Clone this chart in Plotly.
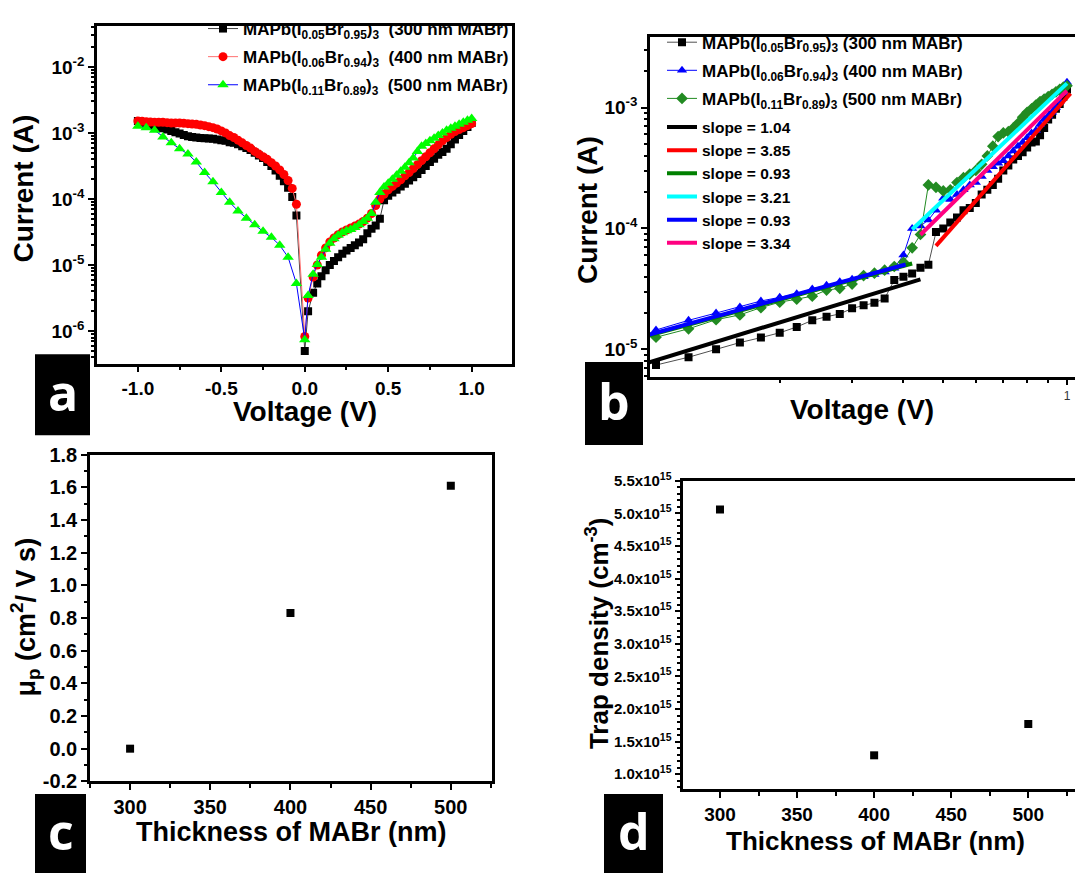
import numpy as np
import plotly.graph_objects as go

W, H = 1075, 884


def fx(px):
    return px / W


def fy(py):
    return 1 - py / H


FONT = "Liberation Sans"

# ---------------- panel a: I-V sweep (log10 of current in A) ----------------
# sweep used for the 300 nm and 400 nm films
voltage_a = [-1.000, -0.975, -0.950, -0.925, -0.900, -0.875, -0.850, -0.825, -0.800, -0.775,
             -0.750, -0.725, -0.700, -0.675, -0.650, -0.625, -0.600, -0.575, -0.550, -0.525,
             -0.500, -0.475, -0.450, -0.425, -0.400, -0.375, -0.350, -0.325, -0.300, -0.275,
             -0.250, -0.225, -0.200, -0.175, -0.150, -0.125, -0.100, -0.075, -0.050,
             0.000, 0.020,
             0.050, 0.075, 0.100, 0.125, 0.150, 0.175, 0.200, 0.225, 0.250, 0.275,
             0.300, 0.325, 0.350, 0.375, 0.400, 0.425, 0.450, 0.475, 0.500, 0.525,
             0.550, 0.575, 0.600, 0.625, 0.650, 0.675, 0.700, 0.725, 0.750, 0.775,
             0.800, 0.825, 0.850, 0.875, 0.900, 0.925, 0.950, 0.975, 1.000]

log_i_300 = [-2.82, -2.84, -2.86, -2.88, -2.89, -2.91, -2.93, -2.95, -2.97, -2.99,
             -3.01, -3.03, -3.05, -3.06, -3.07, -3.075, -3.08, -3.085, -3.09, -3.10,
             -3.11, -3.12, -3.14, -3.15, -3.17, -3.20, -3.23, -3.26, -3.30, -3.34,
             -3.38, -3.44, -3.50, -3.57, -3.65, -3.73, -3.83, -3.97, -4.25,
             -6.30, -5.70,
             -5.42, -5.28, -5.17, -5.08, -5.00, -4.94, -4.88, -4.83, -4.78, -4.74,
             -4.70, -4.66, -4.61, -4.52, -4.45, -4.40, -4.30, -4.02, -3.95, -3.90,
             -3.86, -3.81, -3.77, -3.72, -3.67, -3.62, -3.56, -3.50, -3.44, -3.39,
             -3.33, -3.29, -3.24, -3.17, -3.10, -3.03, -2.97, -2.91, -2.85]

log_i_400 = [-2.82, -2.825, -2.83, -2.835, -2.84, -2.84, -2.84, -2.845, -2.85, -2.85,
             -2.85, -2.855, -2.86, -2.865, -2.87, -2.88, -2.89, -2.905, -2.92, -2.94,
             -2.97, -3.00, -3.04, -3.07, -3.11, -3.15, -3.19, -3.23, -3.28, -3.32,
             -3.36, -3.40, -3.45, -3.50, -3.56, -3.63, -3.72, -3.84, -4.08,
             -6.08, -5.50,
             -5.18, -5.00, -4.85, -4.74, -4.65, -4.59, -4.54, -4.50, -4.47, -4.44,
             -4.41, -4.38, -4.34, -4.29, -4.22, -4.10, -4.00, -3.93, -3.86, -3.81,
             -3.76, -3.71, -3.65, -3.60, -3.54, -3.48, -3.42, -3.36, -3.30, -3.24,
             -3.18, -3.12, -3.07, -3.02, -2.98, -2.95, -2.92, -2.89, -2.86]

# sweep used for the 500 nm film
voltage_a_500 = [-1.00, -0.95, -0.90, -0.85, -0.80, -0.75, -0.70, -0.65, -0.60, -0.55,
                 -0.50, -0.45, -0.40, -0.35, -0.30, -0.25, -0.20, -0.15, -0.10, -0.05,
                 0.000, 0.020,
                 0.050, 0.075, 0.100, 0.125, 0.150, 0.175, 0.200, 0.225, 0.250, 0.275,
                 0.300, 0.325, 0.350, 0.375, 0.400, 0.425, 0.450, 0.475, 0.500, 0.525,
                 0.550, 0.575, 0.600, 0.625, 0.650, 0.675, 0.700, 0.725, 0.750, 0.775,
                 0.800, 0.825, 0.850, 0.875, 0.900, 0.925, 0.950, 0.975, 1.000]

log_i_500 = [-2.90, -2.92, -2.96, -3.06, -3.15, -3.24, -3.32, -3.44, -3.60, -3.74,
             -3.90, -4.05, -4.18, -4.29, -4.39, -4.49, -4.58, -4.70, -4.88, -5.28,
             -6.13, -5.46,
             -5.14, -4.99, -4.88, -4.76, -4.67, -4.60, -4.55, -4.51, -4.48, -4.46,
             -4.43, -4.39, -4.34, -4.29, -4.22, -4.05, -3.90, -3.82, -3.76, -3.70,
             -3.64, -3.58, -3.52, -3.45, -3.38, -3.28, -3.20, -3.16, -3.12, -3.08,
             -3.04, -3.00, -2.96, -2.93, -2.90, -2.87, -2.84, -2.81, -2.78]

names_a = ["MAPb(I<sub>0.05</sub>Br<sub>0.95</sub>)<sub>3</sub>\u00a0\u00a0(300 nm MABr)",
           "MAPb(I<sub>0.06</sub>Br<sub>0.94</sub>)<sub>3</sub>\u00a0\u00a0(400 nm MABr)",
           "MAPb(I<sub>0.11</sub>Br<sub>0.89</sub>)<sub>3</sub>\u00a0\u00a0(500 nm MABr)"]

# ---------------- panel b: log-log forward bias ----------------
voltage_b = [0.10, 0.12, 0.14, 0.16, 0.18, 0.20, 0.22, 0.24, 0.26, 0.28,
             0.30, 0.32, 0.34, 0.36, 0.38, 0.40, 0.42, 0.44, 0.46, 0.48,
             0.50, 0.52, 0.54, 0.56, 0.58, 0.60, 0.62, 0.64, 0.66, 0.68,
             0.70, 0.72, 0.74, 0.76, 0.78, 0.80, 0.82, 0.84, 0.86, 0.88,
             0.90, 0.92, 0.94, 0.96, 0.98, 1.00]

log_ib_300 = [-5.13, -5.065, -5.00, -4.944, -4.903, -4.863, -4.815, -4.76, -4.73, -4.707,
              -4.661, -4.635, -4.615, -4.58, -4.427, -4.40, -4.373, -4.325, -4.30, -4.03,
              -4.00, -3.95, -3.91, -3.85, -3.83, -3.79, -3.72, -3.68, -3.64, -3.59,
              -3.52, -3.48, -3.43, -3.40, -3.37, -3.33, -3.29, -3.28, -3.23, -3.17,
              -3.10, -3.06, -3.01, -2.97, -2.91, -2.85]

log_ib_400 = [-4.84, -4.76, -4.70, -4.65, -4.60, -4.57, -4.54, -4.50, -4.47, -4.44,
              -4.42, -4.40, -4.38, -4.36, -4.33, -4.22, -4.00, -3.98, -3.93, -3.85,
              -3.75, -3.76, -3.72, -3.68, -3.64, -3.62, -3.57, -3.52, -3.49, -3.46,
              -3.44, -3.40, -3.36, -3.32, -3.29, -3.25, -3.21, -3.19, -3.14, -3.10,
              -3.07, -3.04, -3.00, -2.95, -2.88, -2.79]

log_ib_500 = [-4.90, -4.83, -4.755, -4.715, -4.655, -4.61, -4.585, -4.56, -4.51, -4.495,
              -4.46, -4.39, -4.37, -4.345, -4.315, -4.28, -4.16, -4.05, -3.64, -3.66,
              -3.69, -3.68, -3.62, -3.58, -3.55, -3.52, -3.47, -3.40, -3.32, -3.24,
              -3.21, -3.20, -3.17, -3.13, -3.08, -3.04, -3.01, -2.98, -2.95, -2.93,
              -2.91, -2.89, -2.87, -2.85, -2.83, -2.82]

names_b = ["MAPb(I<sub>0.05</sub>Br<sub>0.95</sub>)<sub>3</sub> (300 nm MABr)",
           "MAPb(I<sub>0.06</sub>Br<sub>0.94</sub>)<sub>3</sub> (400 nm MABr)",
           "MAPb(I<sub>0.11</sub>Br<sub>0.89</sub>)<sub>3</sub> (500 nm MABr)"]

# power-law fits: log10(I) = log_i_at_1v + slope * log10(V)
fit_slopes = [1.04, 3.85, 0.93, 3.21, 0.93, 3.34]
fit_log_i_at_1v = [-4.05, -2.917, -3.94, -2.80, -3.933, -2.861]
fit_v_start = [0.09, 0.48, 0.09, 0.42, 0.09, 0.44]
fit_v_end = [0.44, 1.02, 0.42, 1.00, 0.405, 1.00]
fit_colors = ["#000000", "#ff0000", "#008000", "#00ffff", "#0000ff", "#ff0080"]

# ---------------- panels c, d ----------------
thickness_nm = [300, 400, 500]
mobility = [0.0, 0.83, 1.61]
trap_density = [5.06e15, 1.29e15, 1.77e15]

fig = go.Figure()

# panel a traces
styles_a = [
    dict(symbol="square", size=8, color="#000000", line="#404040"),
    dict(symbol="circle", size=9, color="#ff0000", line="#ff7070"),
    dict(symbol="triangle-up", size=10, color="#00ff00", line="#0000ff"),
]
series_a = [(voltage_a, log_i_300), (voltage_a, log_i_400), (voltage_a_500, log_i_500)]
for k, (name, (vv, logs), st) in enumerate(zip(names_a, series_a, styles_a)):
    fig.add_trace(go.Scatter(
        x=vv, y=np.power(10.0, logs), mode="lines+markers", name=name,
        xaxis="x", yaxis="y", legend="legend", legendgroup=f"a{k}",
        line=dict(color=st["line"], width=1),
        marker=dict(symbol=st["symbol"], size=st["size"], color=st["color"]),
    ))

# panel b traces
styles_b = [
    dict(symbol="square", size=8, color="#000000", line="#505050"),
    dict(symbol="triangle-up", size=9, color="#0000ff", line="#0000ff"),
    dict(symbol="diamond", size=9, color="#228b22", line="#228b22"),
]
for k, (name, logs, st) in enumerate(zip(names_b, [log_ib_300, log_ib_400, log_ib_500], styles_b)):
    fig.add_trace(go.Scatter(
        x=voltage_b, y=np.power(10.0, logs), mode="lines+markers", name=name,
        xaxis="x2", yaxis="y2", legend="legend2", legendgroup=f"b{k}",
        line=dict(color=st["line"], width=1),
        marker=dict(symbol=st["symbol"], size=st["size"], color=st["color"]),
    ))

for s, a, v0, v1, c in zip(fit_slopes, fit_log_i_at_1v, fit_v_start, fit_v_end, fit_colors):
    v = np.array([v0, v1])
    fig.add_trace(go.Scatter(
        x=v, y=np.power(10.0, a + s * np.log10(v)), mode="lines",
        name=f"slope = {s:.2f}", xaxis="x2", yaxis="y2", legend="legend3",
        line=dict(color=c, width=4),
    ))

# panel c, d traces
fig.add_trace(go.Scatter(x=thickness_nm, y=mobility, mode="markers", showlegend=False,
                         xaxis="x3", yaxis="y3",
                         marker=dict(symbol="square", size=8, color="black")))
fig.add_trace(go.Scatter(x=thickness_nm, y=trap_density, mode="markers", showlegend=False,
                         xaxis="x4", yaxis="y4",
                         marker=dict(symbol="square", size=8, color="black")))


def tfont(size):
    return dict(family=FONT, size=size, color="black", weight="bold")


base = dict(showline=True, linewidth=2.5, linecolor="black", mirror=True,
            ticks="outside", ticklen=6, tickwidth=2, tickcolor="black",
            showgrid=False, zeroline=False)

minor_style = dict(ticks="outside", ticklen=3.5, tickwidth=1.5, tickcolor="black")


def log_minor(lo, hi):
    vals = []
    for e in range(-8, 2):
        for m in range(2, 10):
            v = m * 10.0 ** e
            if lo < np.log10(v) < hi:
                vals.append(v)
    return vals


decades_a = [1e-6, 1e-5, 1e-4, 1e-3, 1e-2]
decades_b = [1e-5, 1e-4, 1e-3]
range_a = [-6.493, -1.376]
range_b = [-5.226, -2.417]

fig.update_layout(
    width=W, height=H, margin=dict(l=0, r=0, t=0, b=0),
    paper_bgcolor="white", plot_bgcolor="white",
    font=dict(family=FONT, color="black"),
    xaxis=dict(**base, domain=[fx(97), fx(511.7)], anchor="y", range=[-1.245, 1.24],
               tickvals=[-1.0, -0.5, 0.0, 0.5, 1.0],
               ticktext=["-1.0", "-0.5", "0.0", "0.5", "1.0"], tickfont=tfont(19),
               minor=dict(**minor_style, tickvals=[-1.25, -0.75, -0.25, 0.25, 0.75])),
    yaxis=dict(**base, domain=[fy(361.7), fy(15)], anchor="x", type="log", range=range_a,
               tickvals=decades_a,
               ticktext=["10<sup>-6</sup>", "10<sup>-5</sup>", "10<sup>-4</sup>",
                         "10<sup>-3</sup>", "10<sup>-2</sup>"],
               tickfont=tfont(19),
               minor=dict(**minor_style, tickvals=log_minor(*range_a))),
    xaxis2=dict(**base, domain=[fx(650), 1.0], anchor="y2", type="log",
                range=[-1.0146, 0.0195], tickvals=[1], ticktext=["1"],
                tickfont=dict(family=FONT, size=12, color="#333333"),
                minor=dict(**minor_style, tickvals=[0.2, 0.3, 0.4, 0.5, 0.6, 0.7, 0.8, 0.9])),
    yaxis2=dict(**{**base, "mirror": False}, domain=[fy(375), fy(26.7)], anchor="x2",
                type="log", range=range_b, tickvals=decades_b,
                ticktext=["10<sup>-5</sup>", "10<sup>-4</sup>", "10<sup>-3</sup>"],
                tickfont=tfont(19),
                minor=dict(**minor_style, tickvals=log_minor(*range_b))),
    xaxis3=dict(**base, domain=[fx(90), fx(491.7)], anchor="y3", range=[275, 525.5],
                tickvals=[300, 350, 400, 450, 500], tickfont=tfont(20),
                minor=dict(**minor_style, tickvals=[275, 325, 375, 425, 475, 525])),
    yaxis3=dict(**base, domain=[fy(790), fy(455)], anchor="x3", range=[-0.2, 1.8],
                tickvals=[-0.2, 0.0, 0.2, 0.4, 0.6, 0.8, 1.0, 1.2, 1.4, 1.6, 1.8],
                ticktext=["-0.2", "0.0", "0.2", "0.4", "0.6", "0.8", "1.0", "1.2",
                          "1.4", "1.6", "1.8"],
                tickfont=tfont(20),
                minor=dict(**minor_style, dtick=0.1, tick0=-0.2)),
    xaxis4=dict(**base, domain=[fx(683.3), 1.0], anchor="y4", range=[276.2, 530.3],
                tickvals=[300, 350, 400, 450, 500], tickfont=tfont(19),
                minor=dict(**minor_style, tickvals=[325, 375, 425, 475, 525])),
    yaxis4=dict(**{**base, "mirror": False}, domain=[fy(798.3), fy(481.7)], anchor="x4",
                range=[0.767e15, 5.5e15],
                tickvals=[1.0e15, 1.5e15, 2.0e15, 2.5e15, 3.0e15, 3.5e15, 4.0e15, 4.5e15,
                          5.0e15, 5.5e15],
                ticktext=[f"{m:.1f}x10<sup>15</sup>" for m in
                          [1.0, 1.5, 2.0, 2.5, 3.0, 3.5, 4.0, 4.5, 5.0, 5.5]],
                tickfont=tfont(15),
                minor=dict(**minor_style, dtick=0.1e15, tick0=0.8e15)),
    legend=dict(x=fx(514), xanchor="right", y=fy(0), yanchor="top",
                bgcolor="rgba(0,0,0,0)", font=tfont(17),
                traceorder="grouped", tracegroupgap=3),
    legend2=dict(x=fx(662), xanchor="left", y=fy(14), yanchor="top",
                 bgcolor="rgba(0,0,0,0)", font=tfont(17),
                 traceorder="grouped", tracegroupgap=3),
    legend3=dict(x=fx(662), xanchor="left", y=fy(102), yanchor="top",
                 bgcolor="rgba(0,0,0,0)", font=tfont(15.5)),
)

# axis titles
titles = [
    ("Voltage (V)", 305, 411, 0, 28),
    ("Current (A)", 23, 182, -90, 28),
    ("Voltage (V)", 862, 409, 0, 28),
    ("Current (A)", 588, 204, -90, 28),
    ("Thickness of MABr (nm)", 291, 842, 0, 27),
    ("\u03bc<sub>p</sub> (cm<sup>2</sup>/ V s)", 25, 622, -90, 27),
    ("Thickness of MABr (nm)", 875, 851, 0, 26),
    ("Trap density (cm<sup>-3</sup>)", 597, 639, -90, 26),
]
for text, x, y, ang, size in titles:
    fig.add_annotation(text=text, x=fx(x), y=fy(y), xref="paper", yref="paper",
                       xanchor="center", yanchor="middle", textangle=ang,
                       showarrow=False, font=tfont(size))

# panel letters on black tabs
tabs = [
    ("a", 35, 90, 352, 435),
    ("b", 585, 643, 360, 445),
    ("c", 35, 86, 803, 884),
    ("d", 604, 663, 803, 884),
]
for letter, x0, x1, y0, y1 in tabs:
    fig.add_shape(type="rect", xref="paper", yref="paper",
                  x0=fx(x0), x1=fx(x1), y0=fy(y1), y1=fy(y0),
                  fillcolor="black", line=dict(width=0), layer="above")
    fig.add_annotation(text=letter, x=fx((x0 + x1) / 2), y=fy((y0 + y1) / 2 - 3),
                       xref="paper", yref="paper", xanchor="center", yanchor="middle",
                       showarrow=False,
                       font=dict(family="Open Sans", size=50, color="white", weight="bold"))

fig.write_html("out.html")
